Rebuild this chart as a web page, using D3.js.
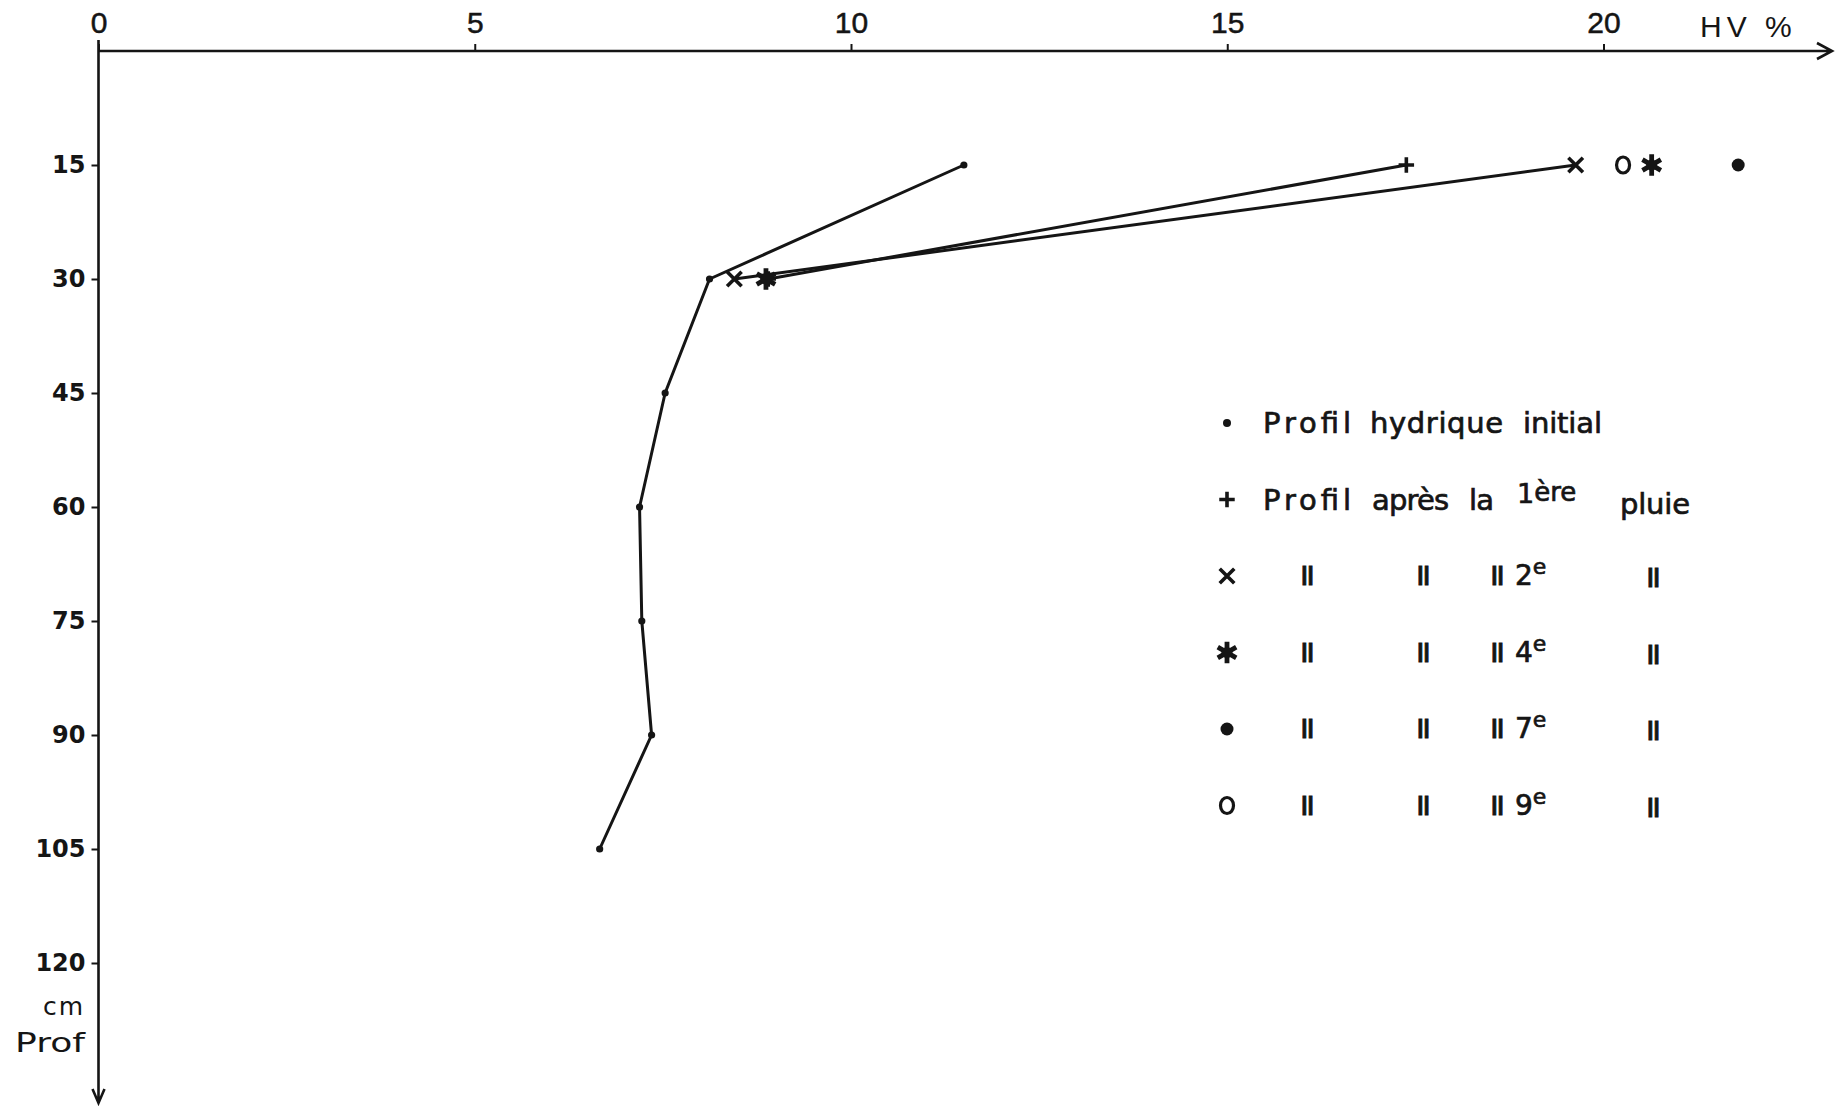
<!DOCTYPE html>
<html>
<head>
    <meta charset="utf-8">
    <script src="https://d3js.org/d3.v7.min.js"></script>
    <style>
        body { margin: 0; background: #fff; }
        text { fill: #151515; }
    </style>
</head>
<body>
    <svg id="chart"></svg>

    <script>
        // Depths (cm) and moisture values (HV %)
        const depthCm = [15, 30, 45, 60, 75, 90, 105];
        const initialHV = [11.5, 8.12, 7.53, 7.19, 7.22, 7.35, 6.66];

        const rainDepths = [15, 30];
        const rain1HV = [17.38, 8.9];
        const rain2HV = [19.63, 8.45];
        const rain4HV = [20.64, 8.87];
        const rain7HV = [21.79];
        const rain9HV = [20.26];

        const xTicks = [0, 5, 10, 15, 20];
        const yTicks = [15, 30, 45, 60, 75, 90, 105, 120];

        // Legend: symbol, rain number (null for the first row)
        const legendSymbols = ["dot", "plus", "times", "asterisk", "bullet", "ring"];
        const legendRainNo = [null, "1", "2", "4", "7", "9"];

        const width = 1843;
        const height = 1115;
        const ink = "#151515";

        const svg = d3.select("#chart")
            .attr("width", width)
            .attr("height", height);

        const x = d3.scaleLinear().domain([0, 20]).range([98.5, 1603.5]);
        const y = d3.scaleLinear().domain([0, 120]).range([51, 963]);

        // Horizontal axis (on top) with arrow
        const xAxis = svg.append("g")
            .attr("transform", `translate(0,${y(0)})`)
            .call(d3.axisTop(x).tickValues(xTicks).tickSize(7).tickSizeOuter(0)
                .tickPadding(11).tickFormat(d3.format("d")));
        xAxis.select(".domain").remove();
        xAxis.selectAll("line").attr("stroke", ink).attr("stroke-width", 2);
        xAxis.selectAll("text")
            .style("font-family", "'Liberation Sans', Arial, sans-serif")
            .style("font-size", "30px")
            .attr("fill", ink)
            .attr("stroke", ink)
            .attr("stroke-width", 0.5);

        svg.append("path")
            .attr("d", `M${x(0)},${y(0)} L1832,${y(0)} M1817,${y(0) - 8} L1832,${y(0)} L1817,${y(0) + 8}`)
            .attr("fill", "none")
            .attr("stroke", ink)
            .attr("stroke-width", 2.6);

        svg.append("text")
            .attr("x", 1700)
            .attr("y", 37)
            .style("font-family", "'Liberation Sans', Arial, sans-serif")
            .style("font-size", "30px")
            .style("letter-spacing", "5px")
            .text("HV %");

        // Vertical axis (depth) with arrow
        const yAxis = svg.append("g")
            .attr("transform", `translate(${x(0)},0)`)
            .call(d3.axisLeft(y).tickValues(yTicks).tickSize(7).tickSizeOuter(0).tickPadding(6));
        yAxis.select(".domain").remove();
        yAxis.selectAll("line").attr("stroke", ink).attr("stroke-width", 2);
        yAxis.selectAll("text")
            .style("font-family", "'DejaVu Sans', sans-serif")
            .style("font-weight", "bold")
            .style("font-size", "24px")
            .attr("fill", ink);

        svg.append("path")
            .attr("d", `M${x(0)},40 L${x(0)},1103 M${x(0) - 6},1089 L${x(0)},1103 L${x(0) + 6},1089`)
            .attr("fill", "none")
            .attr("stroke", ink)
            .attr("stroke-width", 2.6);

        svg.append("text")
            .attr("x", 85).attr("y", 1015)
            .attr("text-anchor", "end")
            .style("font-family", "'DejaVu Sans', sans-serif")
            .style("font-size", "25px")
            .style("letter-spacing", "2px")
            .text("cm");
        svg.append("text")
            .attr("x", 85).attr("y", 1052)
            .attr("text-anchor", "end")
            .attr("textLength", 70)
            .attr("lengthAdjust", "spacingAndGlyphs")
            .style("font-family", "'DejaVu Sans', sans-serif")
            .style("font-size", "27px")
            .text("Prof");

        // Marker drawing helper
        function drawSymbol(g, type, cx, cy, k) {
            k = k || 1;
            if (type === "dot") {
                g.append("circle").attr("cx", cx).attr("cy", cy).attr("r", 4 * k).attr("fill", ink);
            } else if (type === "bullet") {
                g.append("circle").attr("cx", cx).attr("cy", cy).attr("r", 6.5 * k).attr("fill", ink);
            } else if (type === "ring") {
                g.append("ellipse").attr("cx", cx).attr("cy", cy).attr("rx", 6.5 * k).attr("ry", 8 * k)
                    .attr("fill", "none").attr("stroke", ink).attr("stroke-width", 3.2);
            } else {
                const sym = { plus: d3.symbolPlus, times: d3.symbolTimes, asterisk: d3.symbolAsterisk }[type];
                const size = { plus: 80, times: 140, asterisk: 320 }[type] * k * k;
                g.append("path")
                    .attr("d", d3.symbol(sym, size)())
                    .attr("transform", `translate(${cx},${cy})`)
                    .attr("fill", "none")
                    .attr("stroke", ink)
                    .attr("stroke-width", type === "asterisk" ? 4.8 : 3.6);
                if (type === "asterisk") {
                    g.append("circle").attr("cx", cx).attr("cy", cy).attr("r", 5.5 * k).attr("fill", ink);
                }
            }
        }

        const line = d3.line()
            .x(d => x(d.hv))
            .y(d => y(d.depth));

        const series = [
            { depths: depthCm, values: initialHV, symbol: "dot", joined: true },
            { depths: rainDepths, values: rain1HV, symbol: "plus", joined: true },
            { depths: rainDepths, values: rain2HV, symbol: "times", joined: true },
            { depths: rainDepths, values: rain4HV, symbol: "asterisk", joined: false },
            { depths: rainDepths, values: rain7HV, symbol: "bullet", joined: false },
            { depths: rainDepths, values: rain9HV, symbol: "ring", joined: false }
        ];

        const plot = svg.append("g");

        series.forEach(s => {
            const pts = s.values.map((v, i) => ({ depth: s.depths[i], hv: v }));
            if (s.joined) {
                plot.append("path")
                    .datum(pts)
                    .attr("d", line)
                    .attr("fill", "none")
                    .attr("stroke", ink)
                    .attr("stroke-width", 3)
                    .attr("stroke-linejoin", "round");
            }
            pts.forEach(p => drawSymbol(plot, s.symbol, x(p.hv), y(p.depth), s.symbol === "dot" ? 0.9 : 1));
        });

        // Legend
        const legend = svg.append("g");
        const legendFont = "'DejaVu Sans', sans-serif";
        const rowY = i => 423 + i * 76.5;
        const symX = 1227;

        legendSymbols.forEach((s, i) => drawSymbol(legend, s, symX, rowY(i), 1));

        function word(txt, xPos, yPos, len) {
            const t = legend.append("text")
                .attr("x", xPos).attr("y", yPos)
                .attr("stroke", ink).attr("stroke-width", 0.7)
                .style("font-family", legendFont)
                .style("font-size", "29px")
                .text(txt);
            if (len) t.attr("textLength", len).attr("lengthAdjust", "spacing");
            return t;
        }

        function ordinal(num, suffix, xPos, yPos, raise, numSize, supSize) {
            const t = legend.append("text")
                .attr("x", xPos).attr("y", yPos)
                .attr("stroke", ink).attr("stroke-width", 0.7)
                .style("font-family", legendFont)
                .style("font-size", numSize + "px")
                .text(num);
            t.append("tspan")
                .attr("dy", -raise)
                .style("font-size", supSize + "px")
                .text(suffix);
        }

        function ditto(xPos, yPos) {
            legend.append("text")
                .attr("x", xPos).attr("y", yPos)
                .attr("text-anchor", "middle")
                .attr("stroke", ink).attr("stroke-width", 0.8)
                .style("font-family", legendFont)
                .style("font-size", "33px")
                .style("letter-spacing", "-3px")
                .text("ıı");
        }

        // Row 1
        word("Profil", 1263, rowY(0) + 10, 88);
        word("hydrique", 1370, rowY(0) + 10, 133);
        word("initial", 1523, rowY(0) + 10, 79);

        // Row 2
        word("Profil", 1263, rowY(1) + 10, 88);
        word("après", 1372, rowY(1) + 10, 77);
        word("la", 1469, rowY(1) + 10, 25);
        ordinal(legendRainNo[1], "ère", 1517, rowY(1) + 3, 2, 27, 26);
        word("pluie", 1620, rowY(1) + 14, 70);

        // Ditto rows
        const dittoX = [1306, 1422, 1496, 1652];
        legendRainNo.slice(2).forEach((n, j) => {
            const yy = rowY(j + 2) + 9;
            dittoX.forEach((dx, k) => ditto(dx, k === 3 ? yy + 2 : yy));
            ordinal(n, "e", 1515, yy, 11, 28, 22);
        });
    </script>
</body>
</html>
